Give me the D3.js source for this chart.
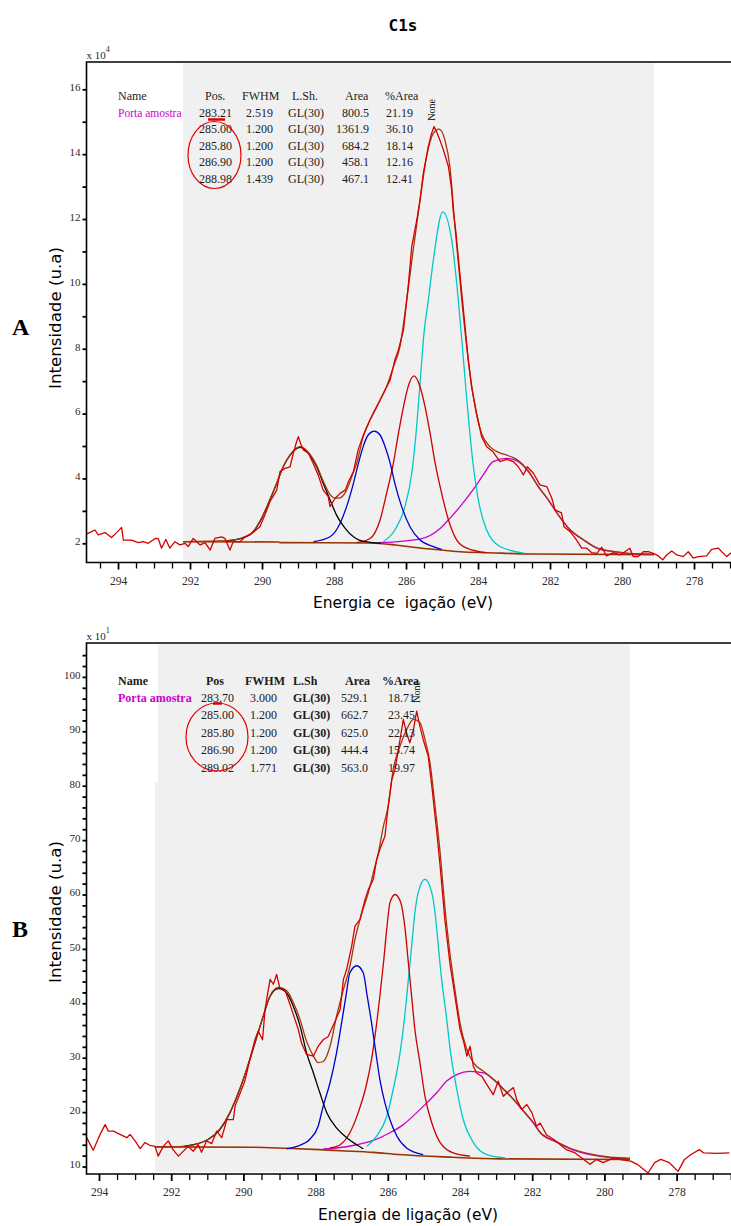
<!DOCTYPE html>
<html>
<head>
<meta charset="utf-8">
<script src="https://cdnjs.cloudflare.com/ajax/libs/d3/7.8.5/d3.min.js"></script>
<style>
  html, body { margin: 0; padding: 0; background: #ffffff; }
  svg { display: block; }
</style>
</head>
<body>
<svg id="chart" width="731" height="1226"></svg>
<script>
// ---------------------------------------------------------------
// C1s XPS spectra: two fitted spectra (A and B)
// Binding energy in eV; intensity in counts (A: x10^4, B: x10^1)
// ---------------------------------------------------------------

const xTickLabels = [294, 292, 290, 288, 286, 284, 282, 280, 278];
const yTickLabelsA = [2, 4, 6, 8, 10, 12, 14, 16];
const yTickLabelsB = [10, 20, 30, 40, 50, 60, 70, 80, 90, 100];

// Fit tables
const sampleName = "Porta amostra";
const headerA = ["Name", "Pos.", "FWHM", "L.Sh.", "Area", "%Area"];
const posA = ["283.21", "285.00", "285.80", "286.90", "288.98"];
const fwhmA = ["2.519", "1.200", "1.200", "1.200", "1.439"];
const shapeA = ["GL(30)", "GL(30)", "GL(30)", "GL(30)", "GL(30)"];
const areaA = ["800.5", "1361.9", "684.2", "458.1", "467.1"];
const pctA = ["21.19", "36.10", "18.14", "12.16", "12.41"];

const headerB = ["Name", "Pos", "FWHM", "L.Sh", "Area", "%Area"];
const posB = ["283.70", "285.00", "285.80", "286.90", "289.02"];
const fwhmB = ["3.000", "1.200", "1.200", "1.200", "1.771"];
const shapeB = ["GL(30)", "GL(30)", "GL(30)", "GL(30)", "GL(30)"];
const areaB = ["529.1", "662.7", "625.0", "444.4", "563.0"];
const pctB = ["18.71", "23.45", "22.13", "15.74", "19.97"];

// component colours, in table row order
const peakColors = ["#cc00cc", "#00c8c8", "#cc0000", "#0000cc", "#000000"];

// ---------------- Spectrum A ----------------
const rawA = [
[294.87,2.29],[294.73,2.36],[294.64,2.41],[294.55,2.26],[294.36,2.33],[294.18,2.18],[294.04,2.33],[293.90,2.49],
[293.85,2.10],[293.62,2.10],[293.44,2.02],[293.30,2.05],[293.16,2.00],[292.97,2.15],[292.88,2.14],[292.79,1.85],
[292.67,2.12],[292.56,1.85],[292.42,2.05],[292.28,1.95],[292.14,2.00],[292.05,1.90],[291.91,2.15],[291.72,1.95],
[291.58,2.02],[291.44,1.79],[291.31,2.15],[291.12,2.20],[291.03,2.15],[290.89,1.79],[290.80,2.05],[290.61,2.05],
[290.47,2.20],[290.33,2.26],[290.19,2.39],[290.06,2.51],[289.92,2.87],[289.78,3.28],[289.59,3.64],[289.50,4.21],
[289.36,4.31],[289.22,4.36],[289.13,4.78],[289.04,5.13],[288.99,5.29],[288.93,5.08],[288.85,4.88],[288.71,4.78],
[288.58,4.47],[288.44,4.11],[288.30,3.64],[288.16,3.44],[288.11,3.13],[287.97,3.39],[287.83,3.54],[287.69,3.64],
[287.60,3.90],[287.46,4.21],[287.33,4.88],[287.20,5.29],[287.00,5.80],[286.81,6.21],[286.63,6.62],[286.44,7.04],
[286.31,7.65],[286.21,7.96],[286.07,8.58],[285.94,9.91],[285.84,11.15],[285.70,11.97],[285.61,12.59],[285.52,13.41],
[285.38,14.23],[285.29,14.64],[285.22,14.85],[285.15,14.69],[285.06,14.44],[284.96,14.13],[284.82,13.61],[284.73,12.89],
[284.69,12.28],[284.61,11.56],[284.55,10.84],[284.45,9.71],[284.36,8.68],[284.27,7.65],[284.18,6.83],[284.04,6.01],
[283.90,5.29],[283.76,4.98],[283.58,4.82],[283.39,4.52],[283.20,4.59],[283.02,4.52],[282.88,4.36],[282.74,4.11],
[282.63,4.36],[282.46,4.16],[282.28,3.80],[282.09,3.75],[281.95,3.39],[281.86,3.03],[281.68,2.94],[281.61,2.51],
[281.44,2.36],[281.26,2.10],[281.12,1.85],[280.98,1.85],[280.84,1.71],[280.70,1.69],[280.56,1.88],[280.43,1.61],
[280.24,1.71],[280.06,1.64],[279.92,1.74],[279.78,1.85],[279.69,1.59],[279.55,1.59],[279.41,1.74],[279.27,1.74],
[279.13,1.69],[278.99,1.61],[278.87,1.49],[278.76,1.64],[278.62,1.76],[278.48,1.64],[278.30,1.59],[278.16,1.74],
[278.02,1.54],[277.88,1.59],[277.65,1.61],[277.51,1.81],[277.32,1.85],[277.23,1.74],[277.09,1.59],[276.97,1.71]
];

const backgroundA = [
[292.19,2.05],[289.55,2.04],[289.50,2.02],[287.00,2.01],[286.30,1.95],[285.80,1.88],[285.10,1.80],
[284.50,1.74],[283.70,1.71],[282.50,1.67],[279.11,1.65]
];

const envelopeA = [
[292.19,2.05],[291.00,2.08],[290.57,2.16],[290.24,2.37],[290.01,2.78],[289.78,3.35],[289.59,3.86],[289.41,4.37],
[289.22,4.73],[288.94,4.98],[288.67,4.75],[288.48,4.40],[288.30,3.92],[288.11,3.50],[287.97,3.39],[287.83,3.40],
[287.65,3.64],[287.46,4.20],[287.37,4.47],[287.19,5.29],[286.96,5.90],[286.72,6.42],[286.54,6.83],[286.35,7.44],
[286.17,8.06],[285.98,9.50],[285.80,11.04],[285.61,12.58],[285.43,13.92],[285.24,14.64],[285.08,14.77],[284.92,14.44],
[284.78,13.61],[284.64,11.76],[284.45,9.50],[284.27,7.65],[284.08,6.21],[283.90,5.39],[283.67,4.98],[283.39,4.79],
[283.20,4.72],[283.02,4.64],[282.88,4.55],[282.60,4.23],[282.33,3.76],[282.05,3.35],[281.77,2.88],[281.44,2.42],
[281.07,2.11],[280.70,1.86],[280.24,1.75],[279.87,1.70],[279.11,1.66]
];

const peakA1 = [ // 283.21
[286.72,2.02],[285.61,2.13],[285.06,2.45],[284.78,2.77],[284.50,3.13],[284.13,3.66],[283.86,4.10],[283.58,4.52],
[283.20,4.62],[282.88,4.52],[282.60,4.21],[282.33,3.75],[282.05,3.34],[281.77,2.87],[281.44,2.41],[281.07,2.10],
[280.70,1.85],[280.24,1.74],[279.87,1.69],[279.13,1.66]
];
const peakA2 = [ // 285.00
[286.63,2.05],[286.31,2.41],[286.03,3.13],[285.84,4.16],[285.72,5.40],[285.61,6.93],[285.50,8.48],[285.38,9.50],
[285.24,10.74],[284.98,12.22],[284.73,11.35],[284.59,10.00],[284.45,8.27],[284.31,6.42],[284.15,4.57],[283.99,3.34],
[283.76,2.41],[283.39,1.90],[282.69,1.69]
];
const peakA3 = [ // 285.80
[287.37,2.02],[287.00,2.15],[286.72,2.72],[286.54,3.54],[286.35,4.47],[286.21,5.39],[286.07,6.21],[285.94,6.83],
[285.78,7.16],[285.61,6.83],[285.47,6.21],[285.33,5.39],[285.19,4.47],[285.01,3.54],[284.82,2.72],[284.59,2.10],
[284.31,1.85],[283.76,1.71]
];
const peakA4 = [ // 286.90
[288.57,2.05],[288.11,2.20],[287.83,2.62],[287.65,3.13],[287.46,3.85],[287.32,4.47],[287.19,4.98],[287.05,5.34],
[286.88,5.46],[286.72,5.34],[286.58,4.98],[286.44,4.47],[286.31,3.85],[286.12,3.13],[285.89,2.51],[285.61,2.10],
[285.24,1.90],[285.01,1.81]
];
const peakA5 = [ // 288.98
[291.00,2.07],[290.57,2.15],[290.24,2.36],[290.01,2.77],[289.78,3.34],[289.59,3.85],[289.41,4.36],[289.22,4.72],
[288.94,4.96],[288.67,4.72],[288.48,4.36],[288.30,3.85],[288.11,3.34],[287.93,2.87],[287.69,2.46],[287.46,2.20],
[287.30,2.10],[287.00,2.03],[286.70,2.01]
];

// ---------------- Spectrum B ----------------
const rawB = [
[294.34,15.3],[294.16,13.0],[293.97,15.9],[293.83,17.7],[293.74,16.5],[293.60,16.5],[293.42,15.9],[293.23,15.3],
[293.14,15.9],[293.00,14.7],[292.86,13.3],[292.73,14.4],[292.59,13.9],[292.45,13.7],[292.36,11.9],[292.22,13.7],
[292.08,14.7],[291.94,13.0],[291.80,11.9],[291.62,13.1],[291.53,13.7],[291.39,12.8],[291.25,14.0],[291.16,12.6],
[291.02,14.7],[290.88,14.2],[290.74,16.5],[290.60,15.3],[290.46,18.6],[290.28,18.6],[290.23,21.1],[290.09,23.5],
[289.96,25.7],[289.82,29.7],[289.68,33.3],[289.59,34.9],[289.47,33.3],[289.40,38.9],[289.31,42.5],[289.26,44.4],
[289.17,43.5],[289.08,45.3],[288.99,42.8],[288.85,42.5],[288.71,39.8],[288.57,37.0],[288.48,35.2],[288.39,32.7],
[288.25,30.6],[288.06,30.3],[287.93,32.1],[287.79,33.3],[287.65,33.9],[287.46,36.7],[287.32,38.9],[287.23,44.4],
[287.14,46.2],[287.00,50.5],[286.91,54.2],[286.77,55.4],[286.63,59.1],[286.54,60.9],[286.40,62.8],[286.31,66.4],
[286.22,68.3],[286.08,70.7],[285.99,76.2],[285.89,81.1],[285.80,83.0],[285.66,88.5],[285.57,92.2],[285.48,89.7],
[285.39,87.9],[285.29,90.3],[285.20,93.7],[285.11,90.9],[285.02,88.5],[284.88,85.4],[284.78,79.9],[284.65,71.9],
[284.55,65.2],[284.42,55.4],[284.28,47.4],[284.14,41.3],[284.00,35.2],[283.89,32.7],[283.81,30.3],[283.72,32.1],
[283.63,28.4],[283.54,27.2],[283.40,26.6],[283.26,25.1],[283.08,23.2],[282.94,25.7],[282.80,22.9],[282.66,23.8],
[282.52,24.5],[282.43,22.3],[282.29,20.5],[282.15,21.4],[282.01,19.9],[281.88,17.4],[281.78,18.0],[281.60,15.8],
[281.41,15.0],[281.05,13.1],[280.81,12.5],[280.40,10.4],[280.22,11.3],[280.04,10.7],[279.74,11.6],[279.51,11.2],
[279.27,11.0],[279.09,10.4],[278.79,8.8],[278.61,10.7],[278.44,11.3],[278.20,10.7],[277.96,9.1],[277.78,11.3],
[277.60,12.2],[277.37,13.1],[277.25,12.5],[276.89,12.4],[276.54,12.5]
];

const backgroundB = [
[292.45,13.6],[289.75,13.55],[288.80,13.35],[287.90,13.1],[287.30,12.9],[286.40,12.6],[285.70,12.2],
[284.20,11.7],[282.90,11.4],[279.29,11.3]
];

const envelopeB = [
[292.45,13.6],[291.66,13.7],[290.97,15.0],[290.65,16.9],[290.37,20.0],[290.14,23.6],[289.91,27.9],[289.68,32.8],
[289.45,37.7],[289.26,41.4],[289.03,42.9],[288.80,42.3],[288.62,40.2],[288.43,37.0],[288.25,33.0],[288.06,30.3],
[287.93,29.1],[287.79,29.3],[287.60,32.1],[287.42,37.6],[287.23,42.5],[287.05,46.8],[286.91,51.7],[286.72,56.6],
[286.54,60.3],[286.40,64.0],[286.26,67.7],[286.12,72.6],[285.99,76.2],[285.85,83.0],[285.66,87.3],[285.48,90.3],
[285.29,92.2],[285.11,91.6],[284.97,88.5],[284.83,84.2],[284.69,76.2],[284.55,67.7],[284.42,57.8],[284.28,49.3],
[284.14,42.5],[284.00,36.4],[283.81,31.5],[283.63,29.1],[283.35,27.5],[283.08,26.1],[282.80,24.3],[282.52,22.4],
[282.25,20.3],[281.97,18.1],[281.78,16.3],[281.37,14.7],[280.96,13.4],[280.40,12.3],[279.84,11.7],[279.29,11.5]
];

const peakB1 = [ // 283.70
[287.79,13.25],[287.42,13.4],[286.86,14.0],[286.40,14.8],[285.94,16.2],[285.57,17.7],[285.20,19.9],[284.92,21.7],
[284.65,23.5],[284.37,25.7],[284.09,26.9],[283.72,27.5],[283.35,27.2],[283.08,26.0],[282.80,24.2],[282.52,22.3],
[282.25,20.2],[281.97,18.0],[281.78,16.2],[281.37,14.6],[280.96,13.3],[280.40,12.2],[279.84,11.65],[279.29,11.5]
];
const peakB2 = [ // 285.00
[286.58,13.7],[286.31,15.6],[286.03,19.2],[285.85,24.2],[285.66,30.9],[285.52,38.3],[285.43,44.4],[285.34,50.5],
[285.25,56.6],[285.16,60.3],[284.97,62.8],[284.78,60.3],[284.69,56.6],[284.60,50.5],[284.51,44.4],[284.39,38.3],
[284.26,30.9],[284.09,24.2],[283.91,18.6],[283.63,14.4],[283.26,12.2],[282.75,11.6]
];
const peakB3 = [ // 285.80
[287.60,13.4],[287.32,14.0],[287.05,16.2],[286.82,19.9],[286.60,24.8],[286.45,29.7],[286.33,35.2],[286.22,41.3],
[286.12,47.4],[286.03,53.6],[285.94,58.5],[285.80,60.0],[285.64,58.5],[285.52,53.6],[285.43,47.4],[285.34,41.3],
[285.25,35.2],[285.11,29.1],[284.97,22.9],[284.78,18.0],[284.55,14.4],[284.19,12.5],[283.72,11.9]
];
const peakB4 = [ // 286.90
[288.80,13.25],[288.52,13.7],[288.16,15.0],[287.93,17.4],[287.79,21.1],[287.60,25.4],[287.42,30.9],[287.28,36.4],
[287.16,41.3],[287.05,45.6],[286.86,46.9],[286.68,45.6],[286.57,41.3],[286.45,36.4],[286.33,30.9],[286.22,26.0],
[286.08,21.7],[285.94,18.6],[285.75,15.6],[285.48,13.4],[285.02,12.2]
];
const peakB5 = [ // 289.02
[291.66,13.7],[291.39,14.0],[290.97,15.0],[290.65,16.8],[290.37,19.9],[290.14,23.5],[289.91,27.8],[289.68,32.7],
[289.45,37.6],[289.26,41.3],[289.03,42.7],[288.80,41.9],[288.62,39.5],[288.43,35.8],[288.25,30.9],[288.06,27.2],
[287.88,23.5],[287.69,19.9],[287.42,17.1],[287.14,15.3],[286.86,14.0],[286.68,13.25]
];

// ---------------------------------------------------------------
const svg = d3.select("#chart");
const SERIF = "'Liberation Serif', 'Times New Roman', serif";
const SANS_C = "'DejaVu Sans Condensed', 'DejaVu Sans', sans-serif";

// chart title
svg.append("text")
  .attr("x", 403).attr("y", 31)
  .attr("text-anchor", "middle")
  .attr("font-family", "'DejaVu Sans Mono', monospace")
  .attr("font-weight", "bold")
  .attr("font-size", 16)
  .attr("fill", "#000")
  .text("C1s");

const panels = [
  {
    id: "A",
    frame: { left: 86.5, top: 62, bottom: 562.5, right: 731 },
    x: d3.scaleLinear().domain([294, 278]).range([118, 694]),
    y: d3.scaleLinear().domain([2, 16]).range([543.3, 89.3]),
    yTicks: yTickLabelsA,
    yMinor: d3.range(3, 16, 2),
    region: [292.19, 279.11],
    exponent: "4",
    expY: 59,
    raw: rawA, bg: backgroundA, env: envelopeA,
    peaks: [peakA1, peakA2, peakA3, peakA4, peakA5],
    header: headerA, pos: posA, fwhm: fwhmA, shape: shapeA, area: areaA, pct: pctA,
    headerX: [118, 205, 242, 292, 345, 385],
    colRight: { pos: 232, fwhm: 273, shape: 288, area: 369, pct: 413 },
    headerY: 100, rowY0: 116.5, rowDy: 16.6, bold: false,
    ellipse: { cx: 214.5, cy: 155, rx: 26.5, ry: 33.5 }, dash: [208, 225, 119.5],
    none: { x: 435, y: 110 },
    xTitle: "Energia ce  igação (eV)", xTitleX: 403, xTitleY: 608,
    yTitleCY: 318, letterY: 335, whiteBoxBottom: null
  },
  {
    id: "B",
    frame: { left: 86.5, top: 643, bottom: 1174, right: 731 },
    x: d3.scaleLinear().domain([294, 278]).range([99, 676.6]),
    y: d3.scaleLinear().domain([10, 100]).range([1166.5, 676.9]),
    yTicks: yTickLabelsB,
    yMinor: d3.range(8, 106, 2).filter(v => v % 10 !== 0),
    region: [292.45, 279.29],
    exponent: "1",
    expY: 640,
    raw: rawB, bg: backgroundB, env: envelopeB,
    peaks: [peakB1, peakB2, peakB3, peakB4, peakB5],
    header: headerB, pos: posB, fwhm: fwhmB, shape: shapeB, area: areaB, pct: pctB,
    headerX: [118, 206, 245, 293, 345, 382],
    colRight: { pos: 234, fwhm: 277, shape: 293, area: 368, pct: 415 },
    headerY: 685, rowY0: 701.5, rowDy: 17.5, bold: true,
    ellipse: { cx: 217, cy: 737, rx: 31, ry: 34 }, dash: [213, 222, 703.5],
    none: { x: 420, y: 692 },
    xTitle: "Energia de ligação (eV)", xTitleX: 408, xTitleY: 1220,
    yTitleCY: 912, letterY: 937, whiteBoxBottom: 782
  }
];

panels.forEach(drawPanel);

function drawPanel(p) {
  const { x, y, frame } = p;
  const g = svg.append("g").attr("class", "panel-" + p.id);

  const clipId = "clip" + p.id;
  svg.append("defs").append("clipPath").attr("id", clipId)
    .append("rect")
    .attr("x", frame.left).attr("y", frame.top)
    .attr("width", frame.right - frame.left).attr("height", frame.bottom - frame.top);

  // shaded fitting region
  g.append("rect")
    .attr("x", x(p.region[0])).attr("y", frame.top + 1)
    .attr("width", x(p.region[1]) - x(p.region[0]))
    .attr("height", frame.bottom - frame.top - 3)
    .attr("fill", "#f0f0f0");

  // white box behind the fit table
  if (p.whiteBoxBottom) {
    g.append("rect")
      .attr("x", frame.left + 1).attr("y", frame.top + 1)
      .attr("width", x(p.region[0]) + 2 - frame.left)
      .attr("height", p.whiteBoxBottom - frame.top - 1)
      .attr("fill", "#ffffff");
  }

  const plot = g.append("g").attr("clip-path", `url(#${clipId})`);
  const byEnergy = arr => d3.sort(arr, (a, b) => b[0] - a[0]);
  const smooth = d3.line().x(d => x(d[0])).y(d => y(d[1])).curve(d3.curveMonotoneX);
  const straight = d3.line().x(d => x(d[0])).y(d => y(d[1]));

  // background
  plot.append("path").datum(byEnergy(p.bg))
    .attr("d", smooth).attr("fill", "none")
    .attr("stroke", "#993300").attr("stroke-width", 1.6);

  // fitted components
  p.peaks.forEach((pk, i) => {
    plot.append("path").datum(byEnergy(pk))
      .attr("d", smooth).attr("fill", "none")
      .attr("stroke", peakColors[i]).attr("stroke-width", 1.3);
  });

  // envelope
  plot.append("path").datum(byEnergy(p.env))
    .attr("d", smooth).attr("fill", "none")
    .attr("stroke", "#a3380a").attr("stroke-width", 1.3);

  // measured spectrum
  plot.append("path").datum(byEnergy(p.raw))
    .attr("d", straight).attr("fill", "none")
    .attr("stroke", "#d40000").attr("stroke-width", 1.3)
    .attr("stroke-linejoin", "round");

  // ---- axes ----
  const xMin = x.invert(frame.right), xMax = x.invert(frame.left);
  const xMinor = d3.range(276.5, 295.01, 0.5)
    .filter(v => v % 2 !== 0 && v > xMin && v < xMax);

  const gxMinor = g.append("g").attr("transform", `translate(0,${frame.bottom})`)
    .call(d3.axisBottom(x).tickValues(xMinor).tickSize(6).tickSizeOuter(0).tickFormat(""));
  gxMinor.select(".domain").remove();
  gxMinor.selectAll(".tick line").attr("stroke", "#000").attr("stroke-width", 1.3);

  const gx = g.append("g").attr("transform", `translate(0,${frame.bottom})`)
    .call(d3.axisBottom(x).tickValues(xTickLabels).tickSize(7).tickSizeOuter(0)
      .tickFormat(d3.format("d")));
  gx.select(".domain").remove();
  gx.selectAll(".tick line").attr("stroke", "#000").attr("stroke-width", 1.8);
  gx.selectAll(".tick text")
    .attr("y", 22).attr("dy", 0)
    .attr("font-family", SERIF).attr("font-size", 11.5).attr("fill", "#2a2a2a");

  const gyMinor = g.append("g").attr("transform", `translate(${frame.left},0)`)
    .call(d3.axisLeft(y).tickValues(p.yMinor.filter(v => y(v) > frame.top && y(v) < frame.bottom))
      .tickSize(4).tickSizeOuter(0).tickFormat(""));
  gyMinor.select(".domain").remove();
  gyMinor.selectAll(".tick line").attr("stroke", "#000").attr("stroke-width", 1.8);

  const gy = g.append("g").attr("transform", `translate(${frame.left},0)`)
    .call(d3.axisLeft(y).tickValues(p.yTicks).tickSize(4).tickPadding(2).tickSizeOuter(0)
      .tickFormat(d3.format("d")));
  gy.select(".domain").remove();
  gy.selectAll(".tick line").attr("stroke", "#000").attr("stroke-width", 1.8);
  gy.selectAll(".tick text")
    .attr("dy", "0.12em")
    .attr("font-family", SERIF).attr("font-size", 11).attr("fill", "#2a2a2a");

  // frame: left, top and bottom lines
  const frameLine = d3.line();
  g.append("path")
    .attr("d", frameLine([[frame.right, frame.top], [frame.left, frame.top],
                          [frame.left, frame.bottom], [frame.right, frame.bottom]]))
    .attr("fill", "none").attr("stroke", "#000").attr("stroke-width", 1.6);

  // intensity multiplier
  const mult = g.append("text")
    .attr("x", frame.left).attr("y", p.expY)
    .attr("font-family", SERIF).attr("font-size", 11).attr("fill", "#2a2a2a");
  mult.append("tspan").text("x 10");
  mult.append("tspan").attr("dy", -7).attr("font-size", 8).text(p.exponent);

  // axis titles
  g.append("text")
    .attr("x", p.xTitleX).attr("y", p.xTitleY)
    .attr("text-anchor", "middle")
    .attr("font-family", SANS_C).attr("font-size", 16.5)
    .attr("textLength", 180).attr("lengthAdjust", "spacingAndGlyphs")
    .attr("fill", "#000")
    .style("white-space", "pre")
    .text(p.xTitle);

  g.append("text")
    .attr("transform", `translate(61,${p.yTitleCY}) rotate(-90)`)
    .attr("text-anchor", "middle")
    .attr("font-family", SANS_C).attr("font-size", 16.5)
    .attr("textLength", 142).attr("lengthAdjust", "spacingAndGlyphs")
    .attr("fill", "#000")
    .text("Intensidade (u.a)");

  // panel letter
  g.append("text")
    .attr("x", 12).attr("y", p.letterY)
    .attr("font-family", SERIF).attr("font-weight", "bold").attr("font-size", 24)
    .attr("fill", "#000")
    .text(p.id);

  // ---- fit table ----
  const tbl = g.append("g")
    .attr("font-family", SERIF).attr("font-size", 12).attr("fill", "#1c1c1c");
  p.header.forEach((h, i) => {
    tbl.append("text")
      .attr("x", p.headerX[i]).attr("y", p.headerY)
      .attr("font-weight", p.bold ? "bold" : "normal")
      .text(h);
  });
  tbl.append("text")
    .attr("x", 118).attr("y", p.rowY0)
    .attr("fill", "#cc00cc")
    .attr("font-weight", p.bold ? "bold" : "normal")
    .attr("font-size", p.bold ? 12 : 11.5)
    .text(sampleName);

  p.pos.forEach((v, i) => {
    const ry = p.rowY0 + i * p.rowDy;
    tbl.append("text").attr("x", p.colRight.pos).attr("y", ry).attr("text-anchor", "end").text(v);
    tbl.append("text").attr("x", p.colRight.fwhm).attr("y", ry).attr("text-anchor", "end").text(p.fwhm[i]);
    tbl.append("text").attr("x", p.colRight.shape).attr("y", ry)
      .attr("font-weight", p.bold ? "bold" : "normal").text(p.shape[i]);
    tbl.append("text").attr("x", p.colRight.area).attr("y", ry).attr("text-anchor", "end").text(p.area[i]);
    tbl.append("text").attr("x", p.colRight.pct).attr("y", ry).attr("text-anchor", "end").text(p.pct[i]);
  });

  // component label drawn vertically next to the table
  g.append("text")
    .attr("transform", `translate(${p.none.x},${p.none.y}) rotate(-90)`)
    .attr("text-anchor", "middle")
    .attr("font-family", SERIF).attr("font-size", 10).attr("fill", "#000")
    .text("None");

  // hand-drawn highlight around the position column
  g.append("ellipse")
    .attr("cx", p.ellipse.cx).attr("cy", p.ellipse.cy)
    .attr("rx", p.ellipse.rx).attr("ry", p.ellipse.ry)
    .attr("fill", "none").attr("stroke", "#e00000").attr("stroke-width", 1.2);
  g.append("line")
    .attr("x1", p.dash[0]).attr("x2", p.dash[1])
    .attr("y1", p.dash[2]).attr("y2", p.dash[2])
    .attr("stroke", "#e00000").attr("stroke-width", 2.5);
}
</script>
</body>
</html>
